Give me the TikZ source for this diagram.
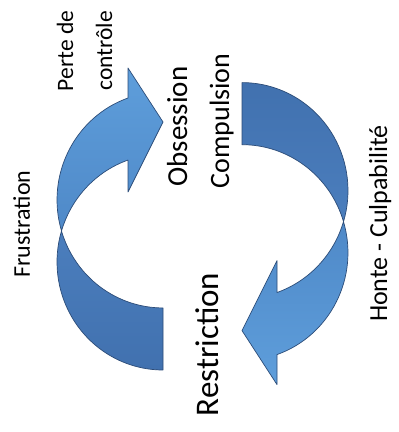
\documentclass[tikz,border=0pt]{standalone}
\usepackage{fontspec}
\setmainfont{Carlito}
\definecolor{arrowline}{HTML}{2C4C78}
\definecolor{frontlight}{HTML}{5E9EDB}
\definecolor{frontdark}{HTML}{4F89C8}
\definecolor{backlight}{HTML}{4B7EBD}
\definecolor{backdark}{HTML}{4171AF}
\begin{document}
\begin{tikzpicture}[x=1pt,y=1pt,
  outline/.style={draw=arrowline, line width=0.7pt, line join=round},
  cyclelabel/.style={rotate=90, anchor=base, inner sep=0pt, text=black},
  el/.style={x radius=106pt, y radius=108pt}]
\useasboundingbox[fill=white] (0,0) rectangle (399,432);

% left curved arrow: dark back half (tail at the bottom)
\path[outline, bottom color=backdark, top color=backlight]
  (163,62) arc[el, start angle=270, end angle=163.3]
           arc[el, start angle=196.7, end angle=270] -- cycle;
% left curved arrow: front half with its head pointing right
\path[outline, bottom color=frontdark, top color=frontlight]
  (128,334) arc[el, start angle=109.3, end angle=196.7]
            arc[el, start angle=163.3, end angle=109.3]
  -- (128,240) -- (163,310) -- (128,364) -- cycle;

% right curved arrow: dark back half (tail at the top)
\path[outline, top color=backdark, bottom color=backlight]
  (242,349.4) arc[el, start angle=90, end angle=-16.7]
              arc[el, start angle=16.7, end angle=90] -- cycle;
% right curved arrow: front half with its head pointing left
\path[outline, top color=frontdark, bottom color=frontlight]
  (277,77.4) arc[el, start angle=289.3, end angle=376.7]
             arc[el, start angle=343.3, end angle=289.3]
  -- (277,171.4) -- (242,101.4) -- (277,47.4) -- cycle;

% labels round the cycle
\node[cyclelabel, font=\fontsize{24}{28}\selectfont] (frustration) at (30,208) {Frustration};
\node[cyclelabel, anchor=center, align=center, font=\fontsize{23.5}{39}\selectfont]
  (perte) at (84.5,381) {Perte de\\contrôle};
\node[cyclelabel, font=\fontsize{29}{34}\selectfont] (obsession) at (187,305.5) {Obsession};
\node[cyclelabel, font=\fontsize{28}{34}\selectfont] (compulsion) at (229,311) {Compulsion};
\node[cyclelabel, font=\fontsize{26}{31}\selectfont] (honte) at (387,208.5) {Honte - Culpabilité};
\node[cyclelabel, font=\fontsize{33}{40}\selectfont] (restriction) at (218,87.5) {Restriction};
\end{tikzpicture}
\end{document}
